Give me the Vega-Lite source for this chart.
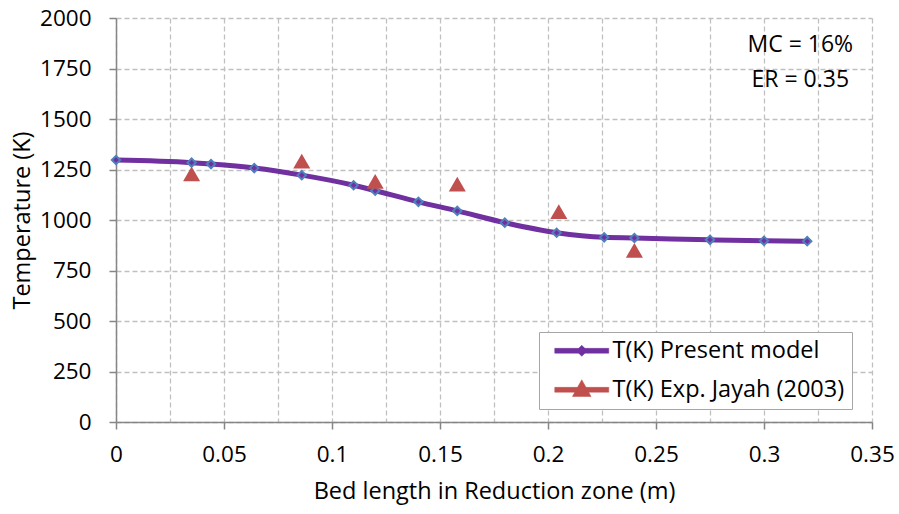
{
  "$schema": "https://vega.github.io/schema/vega-lite/v6.json",
  "width": 756,
  "height": 404,
  "autosize": "none",
  "padding": {"left": 116, "top": 18, "right": 27, "bottom": 92},
  "background": "white",
  "config": {
    "view": {"stroke": null},
    "font": "Open Sans",
    "axis": {
      "labelFont": "Open Sans", "titleFont": "Open Sans",
      "labelFontSize": 22.5, "titleFontSize": 23.5,
      "labelColor": "#000000", "titleColor": "#000000",
      "titleFontWeight": "normal",
      "domainColor": "#868686", "domainWidth": 1.5,
      "tickColor": "#868686", "tickWidth": 1.5, "tickSize": 7,
      "gridColor": "#c0c0c0", "gridDash": [5, 3], "gridWidth": 1.3
    }
  },
  "datasets": {
    "model": [
      {"x": 0, "T": 1297, "series": "T(K) Present model"},
      {"x": 0.035, "T": 1284, "series": "T(K) Present model"},
      {"x": 0.044, "T": 1277, "series": "T(K) Present model"},
      {"x": 0.064, "T": 1257, "series": "T(K) Present model"},
      {"x": 0.086, "T": 1222, "series": "T(K) Present model"},
      {"x": 0.11, "T": 1172, "series": "T(K) Present model"},
      {"x": 0.12, "T": 1145, "series": "T(K) Present model"},
      {"x": 0.14, "T": 1090, "series": "T(K) Present model"},
      {"x": 0.158, "T": 1045, "series": "T(K) Present model"},
      {"x": 0.18, "T": 987, "series": "T(K) Present model"},
      {"x": 0.204, "T": 937, "series": "T(K) Present model"},
      {"x": 0.226, "T": 914, "series": "T(K) Present model"},
      {"x": 0.24, "T": 911, "series": "T(K) Present model"},
      {"x": 0.275, "T": 902, "series": "T(K) Present model"},
      {"x": 0.3, "T": 897, "series": "T(K) Present model"},
      {"x": 0.32, "T": 895, "series": "T(K) Present model"}
    ],
    "exp": [
      {"x": 0.035, "T": 1228, "series": "T(K) Exp. Jayah (2003)"},
      {"x": 0.086, "T": 1292, "series": "T(K) Exp. Jayah (2003)"},
      {"x": 0.12, "T": 1191, "series": "T(K) Exp. Jayah (2003)"},
      {"x": 0.158, "T": 1178, "series": "T(K) Exp. Jayah (2003)"},
      {"x": 0.205, "T": 1041, "series": "T(K) Exp. Jayah (2003)"},
      {"x": 0.24, "T": 850, "series": "T(K) Exp. Jayah (2003)"}
    ],
    "notes": [
      {"x": 0.3168, "T": 1866, "text": "MC = 16%"},
      {"x": 0.3168, "T": 1693, "text": "ER = 0.35"}
    ]
  },
  "encoding": {
    "x": {
      "field": "x", "type": "quantitative",
      "scale": {"domain": [0, 0.35], "nice": false, "zero": false},
      "axis": {
        "title": "Bed length in Reduction zone (m)",
        "values": [0, 0.025, 0.05, 0.075, 0.1, 0.125, 0.15, 0.175, 0.2, 0.225, 0.25, 0.275, 0.3, 0.325, 0.35],
        "labelExpr": "round(datum.value*40) % 2 == 1 ? '' : format(datum.value, '~g')",
        "tickOpacity": {"condition": {"test": "round(datum.value*40) % 2 == 1", "value": 0}, "value": 1},
        "labelPadding": 14,
        "titlePadding": 14,
        "labelFlush": false
      }
    },
    "y": {
      "field": "T", "type": "quantitative",
      "scale": {"domain": [0, 2000], "nice": false},
      "axis": {
        "title": "Temperature (K)",
        "format": "d",
        "values": [0, 250, 500, 750, 1000, 1250, 1500, 1750, 2000],
        "labelPadding": 18,
        "titlePadding": 5
      }
    }
  },
  "layer": [
    {
      "data": {"name": "model"},
      "mark": {"type": "line", "interpolate": "monotone", "strokeWidth": 5},
      "encoding": {
        "color": {
          "field": "series", "type": "nominal",
          "scale": {"domain": ["T(K) Present model", "T(K) Exp. Jayah (2003)"], "range": ["#7030A0", "#C0504D"]},
          "legend": {
            "title": null,
            "orient": "none",
            "legendX": 423,
            "legendY": 314,
            "padding": 7,
            "strokeColor": "#a6a6a6",
            "fillColor": "#ffffff",
            "symbolSize": 400,
            "labelOffset": 43,
            "labelFontSize": 23.5,
            "labelFont": "Open Sans",
            "labelColor": "#000000",
            "labelLimit": 400,
            "rowPadding": 14,
            "encode": {
              "symbols": {
                "update": {
                  "shape": {"signal": "datum.value === 'T(K) Present model' ? 'M-0.3,-0.24H5.1V0.24H-0.3Z M2.4,-0.55L2.95,0L2.4,0.55L1.85,0Z' : 'M-0.3,-0.24H5.1V0.24H-0.3Z M2.4,-1.0L3.33,0.67L1.47,0.67Z'"},
                  "fill": {"signal": "datum.value === 'T(K) Present model' ? '#7030A0' : '#C0504D'"},
                  "stroke": {"signal": "datum.value === 'T(K) Present model' ? '#7030A0' : '#C0504D'"},
                  "strokeWidth": {"value": 0.5},
                  "opacity": {"value": 1},
                  "fillOpacity": {"value": 1}
                }
              }
            }
          }
        }
      }
    },
    {
      "data": {"name": "model"},
      "mark": {"type": "point", "shape": "diamond", "filled": true, "size": 70, "fill": "#7030A0", "stroke": "#4F81BD", "strokeWidth": 2, "opacity": 1}
    },
    {
      "data": {"name": "exp"},
      "mark": {"type": "point", "shape": "triangle-up", "filled": true, "size": 290, "opacity": 1},
      "encoding": {
        "color": {"field": "series", "type": "nominal"}
      }
    },
    {
      "data": {"name": "notes"},
      "mark": {"type": "text", "font": "Open Sans", "fontSize": 23, "color": "#000000", "align": "center", "baseline": "middle"},
      "encoding": {"text": {"field": "text", "type": "nominal"}}
    }
  ]
}
